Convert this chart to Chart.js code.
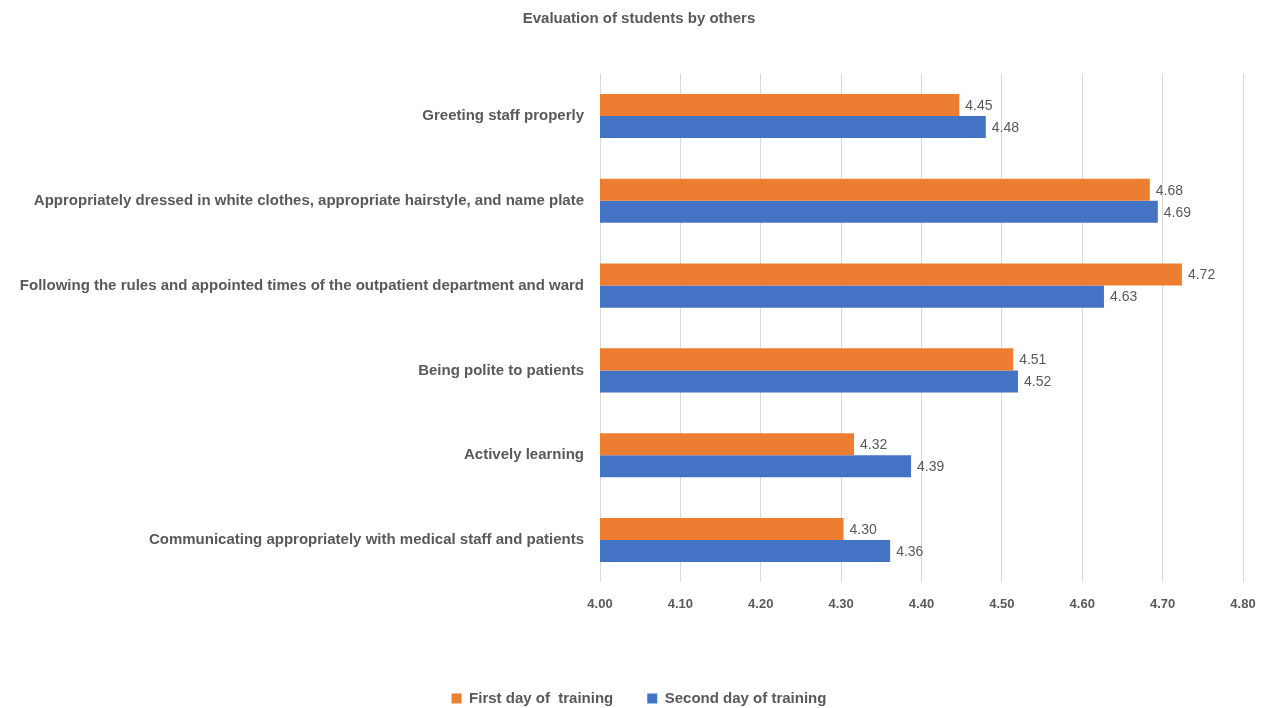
<!DOCTYPE html>
<html>
<head>
<meta charset="utf-8">
<script src="https://cdn.jsdelivr.net/npm/chart.js@4.4.0/dist/chart.umd.min.js"></script>
<style>
  html, body { margin: 0; padding: 0; background: #fff; }
</style>
</head>
<body>
<canvas id="myChart" width="1267" height="708"></canvas>
<script>
let categories = [
  'Greeting staff properly',
  'Appropriately dressed in white clothes, appropriate hairstyle, and name plate',
  'Following the rules and appointed times of the outpatient department and ward',
  'Being polite to patients',
  'Actively learning',
  'Communicating appropriately with medical staff and patients'
];
let firstDay = [4.447, 4.684, 4.724, 4.514, 4.316, 4.303];
let secondDay = [4.480, 4.694, 4.627, 4.520, 4.387, 4.361];
let seriesNames = ['First day of  training', 'Second day of training'];
let colors = ['#ED7D31', '#4472C4'];
let xMin = 4.0, xMax = 4.8, xStep = 0.1;

const fontFamily = '"Liberation Sans Narrow", "Liberation Sans", Arial, sans-serif';
const textColor = '#595959';

// value labels at the end of each bar
const valueLabels = {
  id: 'valueLabels',
  afterDatasetsDraw(chart) {
    let ctx = chart.ctx;
    ctx.save();
    ctx.font = '14px ' + fontFamily;
    ctx.fillStyle = textColor;
    ctx.textBaseline = 'middle';
    ctx.textAlign = 'left';
    chart.data.datasets.forEach(function(ds, i) {
      chart.getDatasetMeta(i).data.forEach(function(bar, j) {
        ctx.fillText(ds.data[j].toFixed(2), bar.x + 6, bar.y + 1);
      });
    });
    ctx.restore();
  }
};

var ctx = document.getElementById('myChart').getContext('2d');
var chart = new Chart(ctx, {
  type: 'bar',
  data: {
    labels: categories,
    datasets: [{
      label: seriesNames[0],
      data: firstDay,
      backgroundColor: colors[0],
      categoryPercentage: 0.52,
      barPercentage: 1.0
    }, {
      label: seriesNames[1],
      data: secondDay,
      backgroundColor: colors[1],
      categoryPercentage: 0.52,
      barPercentage: 1.0
    }]
  },
  options: {
    indexAxis: 'y',
    responsive: false,
    animation: false,
    layout: { padding: { top: 10, left: 20, right: 9, bottom: -8 } },
    plugins: {
      title: {
        display: true,
        text: 'Evaluation of students by others',
        color: textColor,
        font: { family: fontFamily, size: 15, weight: 'bold' },
        padding: { top: 0, bottom: 45.6 }
      },
      legend: {
        position: 'bottom',
        labels: {
          color: textColor,
          font: { family: fontFamily, size: 15, weight: 'bold' },
          boxWidth: 10,
          boxHeight: 10,
          padding: 34
        }
      },
      tooltip: { enabled: false }
    },
    scales: {
      x: {
        min: xMin,
        max: xMax,
        grid: { color: '#d9d9d9', drawTicks: false },
        border: { display: false },
        ticks: {
          stepSize: xStep,
          padding: 14,
          color: textColor,
          font: { family: fontFamily, size: 13, weight: 'bold' },
          callback: function(v) { return v.toFixed(2); }
        },
        afterFit: function(scale) {
          scale.height = 74.6;
          scale.paddingRight = 0;
          scale.paddingLeft = 0;
        }
      },
      y: {
        grid: { display: false, drawTicks: false },
        border: { display: false },
        ticks: {
          padding: 16,
          color: textColor,
          font: { family: fontFamily, size: 15, weight: 'bold' }
        },
        afterFit: function(scale) { scale.width = 580; }
      },
      yRight: {
        type: 'linear',
        position: 'right',
        display: true,
        grid: { display: false, drawTicks: false },
        border: { display: false },
        ticks: { display: false },
        afterFit: function(scale) { scale.width = 15; }
      }
    }
  },
  plugins: [valueLabels]
});
</script>
</body>
</html>
